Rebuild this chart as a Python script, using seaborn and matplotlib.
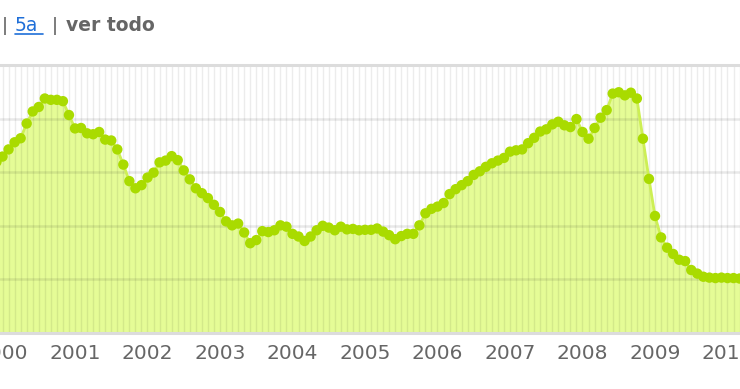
import numpy as np
import pandas as pd
import matplotlib
matplotlib.use("Agg")
import matplotlib.pyplot as plt
import seaborn as sns
from matplotlib.lines import Line2D

# ---- data (monthly values, Dec 1999 .. Apr 2010) ----
start_year, start_month = 1999, 12
values = [
    3.83,
    3.95, 4.11, 4.27, 4.36, 4.69, 4.96, 5.06, 5.25, 5.22, 5.22, 5.19, 4.88,
    4.58, 4.59, 4.47, 4.45, 4.50, 4.33, 4.31, 4.11, 3.77, 3.40, 3.24, 3.31,
    3.48, 3.59, 3.82, 3.86, 3.96, 3.87, 3.64, 3.44, 3.24, 3.13, 3.02, 2.87,
    2.71, 2.50, 2.41, 2.45, 2.25, 2.01, 2.08, 2.28, 2.26, 2.30, 2.41, 2.38,
    2.22, 2.16, 2.06, 2.16, 2.30, 2.40, 2.36, 2.30, 2.38, 2.32, 2.33, 2.30,
    2.31, 2.31, 2.34, 2.27, 2.19, 2.10, 2.17, 2.22, 2.22, 2.41, 2.68, 2.78,
    2.83, 2.91, 3.11, 3.22, 3.31, 3.40, 3.54, 3.62, 3.72, 3.80, 3.86, 3.92,
    4.06, 4.09, 4.11, 4.25, 4.37, 4.51, 4.56, 4.67, 4.73, 4.65, 4.61, 4.79,
    4.50, 4.35, 4.59, 4.82, 4.99, 5.36, 5.39, 5.32, 5.38, 5.25, 4.35, 3.45,
    2.62, 2.14, 1.91, 1.77, 1.64, 1.61, 1.41, 1.33, 1.26, 1.24, 1.23, 1.24,
    1.23, 1.23, 1.22, 1.23,
]
year_ticks = [2000, 2001, 2002, 2003, 2004, 2005, 2006, 2007, 2008, 2009, 2010]
y_grid = [0, 1.2, 2.4, 3.6, 4.8, 6.0]

dates = pd.date_range(f"{start_year}-{start_month:02d}-01", periods=len(values), freq="MS")
df = pd.DataFrame({"t": dates.year + (dates.month - 1) / 12.0, "v": values})

sns.set_theme(style="white")
plt.rcParams["font.family"] = ["DejaVu Sans"]

fig = plt.figure(figsize=(7.4, 3.89), dpi=100)
ax = fig.add_axes([0.0, 1 - 333 / 389, 1.0, (333 - 65) / 389])

fill_c = "#e5fc96"
line_c = "#cdef55"
dot_c = "#a9db00"

ax.fill_between(df["t"], 0, df["v"], color=fill_c, lw=0, zorder=1)
sns.lineplot(data=df, x="t", y="v", ax=ax, color=line_c, lw=2.0, zorder=3)
sns.scatterplot(data=df, x="t", y="v", ax=ax, color=dot_c, s=56, edgecolor="none",
                linewidth=0, zorder=4)

left = 2001 - 75 / 72.5
ax.set_xlim(left, left + 740 / 72.5)
ax.set_ylim(0, 6.0)

# gridlines
months = np.arange(1999 + 11 / 12, 2010.6, 1 / 12)
for m in months:
    ax.axvline(m, color=(0, 0, 0, 0.075), lw=1.0, zorder=2)
for g in y_grid[1:-1]:
    ax.axhline(g, color=(0, 0, 0, 0.085), lw=1.8, zorder=2)

ax.set_xticks(year_ticks)
ax.set_xticklabels([str(y) for y in year_ticks])
ax.set_yticks([])
ax.tick_params(axis="x", length=0, pad=8, labelsize=14.5, labelcolor="#666666")
ax.set_xlabel("")
ax.set_ylabel("")
ax.grid(False)
for s in ["left", "right"]:
    ax.spines[s].set_visible(False)
for s in ["top", "bottom"]:
    ax.spines[s].set_visible(True)
    ax.spines[s].set_color("#dcdcdc")
    ax.spines[s].set_linewidth(2.2)
    ax.spines[s].set_zorder(5)

# header links
fy = 1 - 31 / 389
fig.text(2 / 740, fy, "|", fontsize=13, color="#555555", ha="left", va="baseline")
fig.text(15 / 740, fy, "5a", fontsize=13.5, color="#1f6fd8", ha="left", va="baseline")
fig.add_artist(Line2D([15 / 740, 43 / 740], [1 - 34 / 389, 1 - 34 / 389],
                      color="#1f6fd8", lw=1.2, transform=fig.transFigure))
fig.text(52 / 740, fy, "|", fontsize=13, color="#555555", ha="left", va="baseline")
fig.text(66 / 740, fy, "ver todo", fontsize=13.5, color="#666666", ha="left",
         va="baseline", fontweight="bold")

fig.savefig("out.png", dpi=100, facecolor="white")
